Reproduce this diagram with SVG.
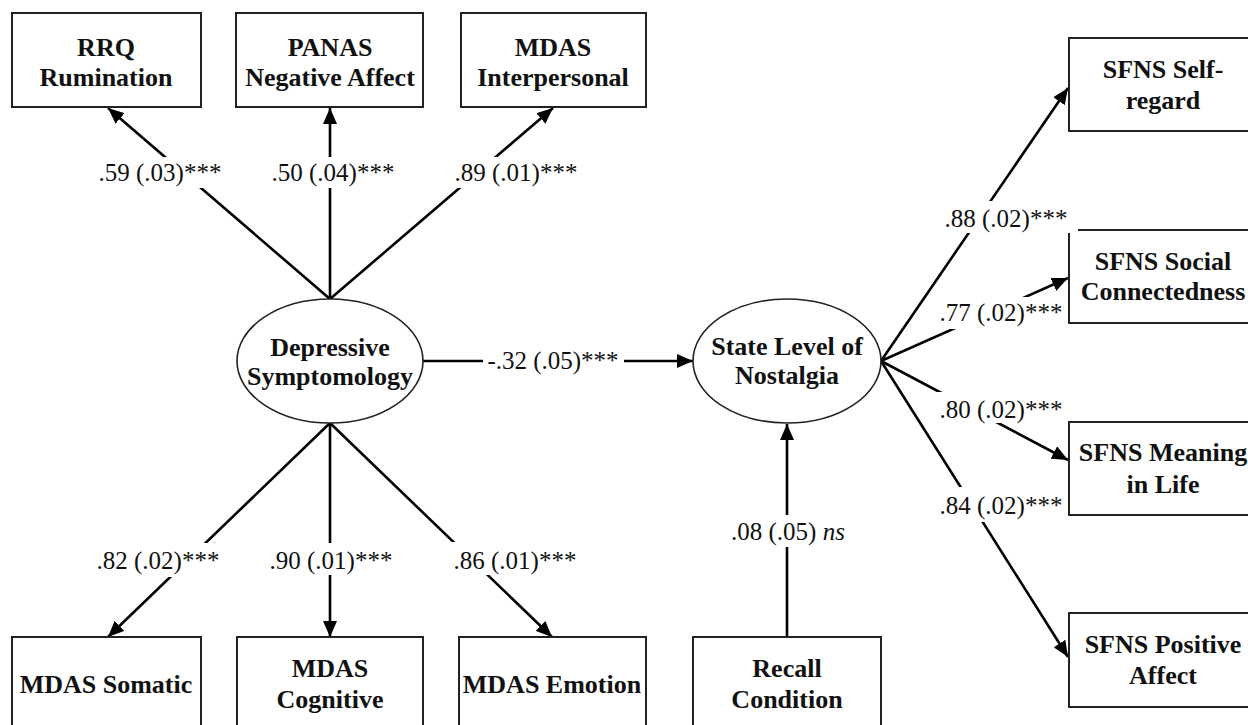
<svg xmlns="http://www.w3.org/2000/svg" width="1248" height="725" viewBox="0 0 1248 725">
<defs>
<style>
.box{fill:#fff;stroke:#222;stroke-width:2}
.ell{fill:#fff;stroke:#222;stroke-width:1.6}
.nt{font-family:"Liberation Serif","Times New Roman",serif;font-weight:bold;font-size:26px;fill:#111;text-anchor:middle}
.lt{font-family:"Liberation Serif","Times New Roman",serif;font-size:25px;fill:#111;text-anchor:middle}
.cn{stroke:#000;stroke-width:2.6;fill:none;marker-end:url(#ah)}
.bg{fill:#fff;stroke:none}
</style>
<marker id="ah" markerUnits="userSpaceOnUse" markerWidth="16" markerHeight="14" refX="16" refY="7" orient="auto">
<path d="M0,0 L16,7 L0,14 z" fill="#000"/>
</marker>
</defs>
<rect width="1248" height="725" fill="#fff"/>

<g id="connectors">
<line class="cn" x1="330" y1="299" x2="108" y2="108"/>
<line class="cn" x1="330" y1="299" x2="330" y2="108"/>
<line class="cn" x1="330" y1="299" x2="553" y2="108"/>
<line class="cn" x1="330" y1="423" x2="108" y2="637"/>
<line class="cn" x1="330" y1="423" x2="330" y2="637"/>
<line class="cn" x1="330" y1="423" x2="552" y2="637"/>
<line class="cn" x1="423" y1="361" x2="693" y2="361"/>
<line class="cn" x1="787" y1="637" x2="787" y2="424"/>
<line class="cn" x1="881" y1="361" x2="1068" y2="88"/>
<line class="cn" x1="881" y1="361" x2="1068" y2="278"/>
<line class="cn" x1="881" y1="361" x2="1068" y2="460"/>
<line class="cn" x1="881" y1="361" x2="1068" y2="657"/>
</g>

<g id="node-rrq"><rect class="box" x="12" y="13" width="189" height="94"/><text class="nt" x="106" y="56">RRQ</text><text class="nt" x="106" y="86">Rumination</text></g>
<g id="node-panas"><rect class="box" x="236" y="13" width="187" height="94"/><text class="nt" x="330" y="56">PANAS</text><text class="nt" x="330" y="86">Negative Affect</text></g>
<g id="node-mdas-interpersonal"><rect class="box" x="461" y="13" width="185" height="94"/><text class="nt" x="553" y="56">MDAS</text><text class="nt" x="553" y="86">Interpersonal</text></g>

<g id="node-depressive"><ellipse class="ell" cx="330" cy="361" rx="93" ry="62"/><text class="nt" x="330" y="356">Depressive</text><text class="nt" x="330" y="385">Symptomology</text></g>
<g id="node-nostalgia"><ellipse class="ell" cx="787" cy="361" rx="94" ry="62"/><text class="nt" x="787" y="355">State Level of</text><text class="nt" x="787" y="384">Nostalgia</text></g>

<g id="node-mdas-somatic"><rect class="box" x="12" y="637" width="189" height="92"/><text class="nt" x="106" y="693">MDAS Somatic</text></g>
<g id="node-mdas-cognitive"><rect class="box" x="237" y="637" width="186" height="92"/><text class="nt" x="330" y="677">MDAS</text><text class="nt" x="330" y="708">Cognitive</text></g>
<g id="node-mdas-emotion"><rect class="box" x="459" y="637" width="187" height="92"/><text class="nt" x="552" y="693">MDAS Emotion</text></g>
<g id="node-recall"><rect class="box" x="693" y="637" width="188" height="92"/><text class="nt" x="787" y="677">Recall</text><text class="nt" x="787" y="708">Condition</text></g>

<g id="node-sfns-self"><rect class="box" x="1069" y="38" width="192" height="93"/><text class="nt" x="1163" y="78">SFNS Self-</text><text class="nt" x="1163" y="109">regard</text></g>
<g id="node-sfns-social"><rect class="box" x="1069" y="230" width="192" height="93"/><text class="nt" x="1163" y="270">SFNS Social</text><text class="nt" x="1163" y="300">Connectedness</text></g>
<g id="node-sfns-meaning"><rect class="box" x="1069" y="422" width="192" height="93"/><text class="nt" x="1163" y="461">SFNS Meaning</text><text class="nt" x="1163" y="493">in Life</text></g>
<g id="node-sfns-positive"><rect class="box" x="1069" y="613" width="192" height="94"/><text class="nt" x="1163" y="653">SFNS Positive</text><text class="nt" x="1163" y="684">Affect</text></g>

<g id="labels">
<rect class="bg" x="98" y="157" width="124" height="31"/><text class="lt" x="160" y="181">.59 (.03)***</text>
<rect class="bg" x="271" y="157" width="124" height="31"/><text class="lt" x="333" y="181">.50 (.04)***</text>
<rect class="bg" x="454" y="157" width="124" height="31"/><text class="lt" x="516" y="181">.89 (.01)***</text>
<rect class="bg" x="96" y="543" width="124" height="34"/><text class="lt" x="158" y="569">.82 (.02)***</text>
<rect class="bg" x="269" y="543" width="124" height="32"/><text class="lt" x="331" y="569">.90 (.01)***</text>
<rect class="bg" x="452" y="542" width="126" height="33"/><text class="lt" x="515" y="569">.86 (.01)***</text>
<rect class="bg" x="483" y="346" width="141" height="30"/><text class="lt" x="553" y="369">-.32 (.05)***</text>
<rect class="bg" x="729" y="515" width="118" height="32"/><text class="lt" x="788" y="540">.08 (.05) <tspan font-style="italic">ns</tspan></text>
<rect class="bg" x="940" y="201" width="138" height="32"/><text class="lt" x="1006" y="227">.88 (.02)***</text>
<rect class="bg" x="936" y="297" width="130" height="32"/><text class="lt" x="1001" y="321">.77 (.02)***</text>
<rect class="bg" x="936" y="392" width="130" height="31"/><text class="lt" x="1001" y="418">.80 (.02)***</text>
<rect class="bg" x="956" y="487" width="110" height="35"/><text class="lt" x="1001" y="514">.84 (.02)***</text>
</g>
</svg>
